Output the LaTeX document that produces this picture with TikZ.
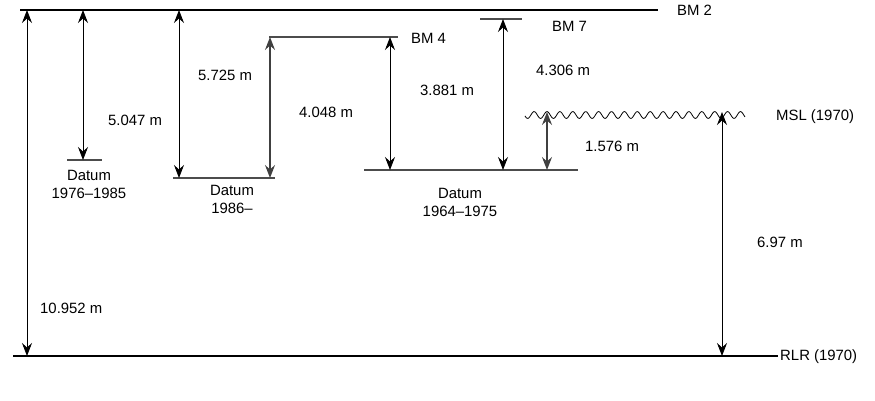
\documentclass[tikz,border=0pt]{standalone}
\usepackage{fontspec}
\setmainfont{Liberation Sans}
\usetikzlibrary{arrows.meta}
\begin{document}
\begin{tikzpicture}[x=1pt,y=-1pt,
  >={Stealth[length=13pt,width=10pt,inset=4.5pt]},
  lbl/.style={inner sep=0pt,font=\fontsize{14.9}{18}\selectfont},
  dlbl/.style={lbl,align=center},
  heavy/.style={line width=2.6pt,black},
  lvl/.style={line width=1.1pt,black!70},
  meas/.style={line width=0.9pt,black,<->},
  measg/.style={meas,line width=1.3pt,black!75}]
\useasboundingbox (0,0) rectangle (875,400);
% levels
\coordinate (bm2a) at (20,10); \coordinate (bm2b) at (658,10);
\coordinate (rlra) at (13,356); \coordinate (rlrb) at (778,356);
\coordinate (d76a) at (67,160); \coordinate (d76b) at (102,160);
\coordinate (d86a) at (173,178); \coordinate (d86b) at (275,178);
\coordinate (bm4a) at (269,37); \coordinate (bm4b) at (398,37);
\coordinate (d64a) at (364,170); \coordinate (d64b) at (578,170);
\coordinate (bm7a) at (480,19); \coordinate (bm7b) at (522,19);
\draw[heavy] (bm2a) -- (bm2b);
\draw[heavy] (rlra) -- (rlrb);
\draw[lvl] (d76a) -- (d76b);
\draw[lvl] (d86a) -- (d86b);
\draw[lvl] (bm4a) -- (bm4b);
\draw[lvl] (d64a) -- (d64b);
\draw[lvl] (bm7a) -- (bm7b);
\draw[line width=0.8pt,black] plot[domain=525:745,samples=300,smooth] (\x,{115-3.4*cos((\x-547)*27.907)});
% measurement ends
\coordinate (a1t) at (27,10); \coordinate (a1b) at (27,356);
\coordinate (a2t) at (83,10); \coordinate (a2b) at (83,160);
\coordinate (a3t) at (179,10); \coordinate (a3b) at (179,178);
\coordinate (a4t) at (270,37); \coordinate (a4b) at (270,178);
\coordinate (a5t) at (390,37); \coordinate (a5b) at (390,170);
\coordinate (a6t) at (503,19); \coordinate (a6b) at (503,170);
\coordinate (a7t) at (547,112); \coordinate (a7b) at (547,170);
\coordinate (a8t) at (722,112); \coordinate (a8b) at (722,356);
\draw[meas] (a1t) -- (a1b);
\draw[meas] (a2t) -- (a2b);
\draw[meas] (a3t) -- (a3b);
\draw[measg] (a4t) -- (a4b);
\draw[meas] (a5t) -- (a5b);
\draw[meas] (a6t) -- (a6b);
\draw[measg] (a7t) -- (a7b);
\draw[meas] (a8t) -- (a8b);
% labels
\node[lbl,anchor=west] (tbm2) at (677,10) {BM 2};
\node[lbl,anchor=west] (trlr) at (780,357) {RLR (1970)};
\node[lbl,anchor=west] (tbm4) at (411,38) {BM 4};
\node[lbl,anchor=west] (tbm7) at (552,26) {BM 7};
\node[lbl,anchor=west] (tmsl) at (776,117) {MSL (1970)};
\node[lbl,anchor=west] (m1) at (40,308) {10.952 m};
\node[lbl,anchor=west] (m2) at (108,120) {5.047 m};
\node[lbl,anchor=west] (m3) at (198,75) {5.725 m};
\node[lbl,anchor=west] (m4) at (299,112) {4.048 m};
\node[lbl,anchor=west] (m5) at (420,90) {3.881 m};
\node[lbl,anchor=west] (m6) at (536,70) {4.306 m};
\node[lbl,anchor=west] (m7) at (585,146) {1.576 m};
\node[lbl,anchor=west] (m8) at (757,242) {6.97 m};
\node[dlbl] (t76) at (89,184) {Datum\\1976--1985};
\node[dlbl] (t86) at (232,199) {Datum\\1986--};
\node[dlbl] (t64) at (460,202) {Datum\\1964--1975};
\end{tikzpicture}
\end{document}
